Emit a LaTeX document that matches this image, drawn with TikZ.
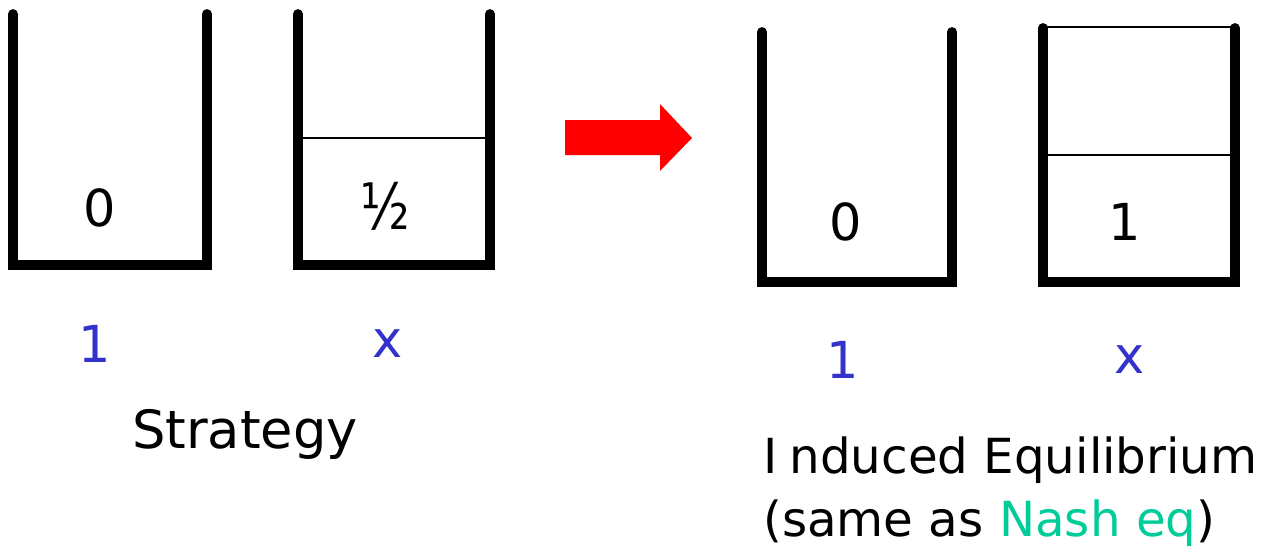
\documentclass[tikz,border=0pt]{standalone}
\usepackage{fontspec}
\setmainfont{DejaVu Sans}
\usepackage{xcolor}
\usepackage{tikz}
\usetikzlibrary{positioning}

\definecolor{labelblue}{RGB}{51,51,204}
\definecolor{nashgreen}{RGB}{0,204,153}

\begin{document}
\begin{tikzpicture}[x=0.02cm, y=-0.02cm,
  wall/.style={line width=5.6pt, line cap=round},
  level/.style={line width=1.1pt},
  val/.style={font=\fontsize{29}{34}\selectfont},
  lab/.style={font=\fontsize{29}{34}\selectfont, text=labelblue},
  caption/.style={font=\fontsize{27.5}{36}\selectfont, align=left}
]
\useasboundingbox (0,0) rectangle (1269,549);

% left: strategy
\draw[wall] (13,14) -- (13,265) -- (207,265) -- (207,14);
\draw[wall] (298,14) -- (298,265) -- (490,265) -- (490,14);
\draw[level] (298,138) -- (490,138);
\node[val] (s1) at (100,208) {0};
\node[val, yscale=1.25] (sx) at (385,206) {½};
\node[lab] (l1) at (95,344) {1};
\node[lab] (lx) at (388,344) {x};
\node[caption, font=\fontsize{30}{36}\selectfont] (strat) at (245,434) {Strategy};

% arrow
\fill[red] (565,120) -- (660,120) -- (660,104) -- (692,138) -- (660,171) -- (660,155) -- (565,155) -- cycle;

% right: equilibrium
\draw[wall] (762,32) -- (762,282) -- (952,282) -- (952,32);
\draw[wall] (1043,28) -- (1043,282) -- (1235,282) -- (1235,28);
\draw[level] (1043,27) -- (1235,27);
\draw[level] (1043,155) -- (1235,155);
\node[val] (e1) at (846,222) {0};
\node[val] (ex) at (1125,222) {1};
\node[lab] (r1) at (843,360) {1};
\node[lab] (rx) at (1130,360) {x};
\node[caption, anchor=west] (equil) at (757,492) {I\kern0.25em nduced Equilibrium\\(same as \textcolor{nashgreen}{Nash eq})};
\end{tikzpicture}
\end{document}
